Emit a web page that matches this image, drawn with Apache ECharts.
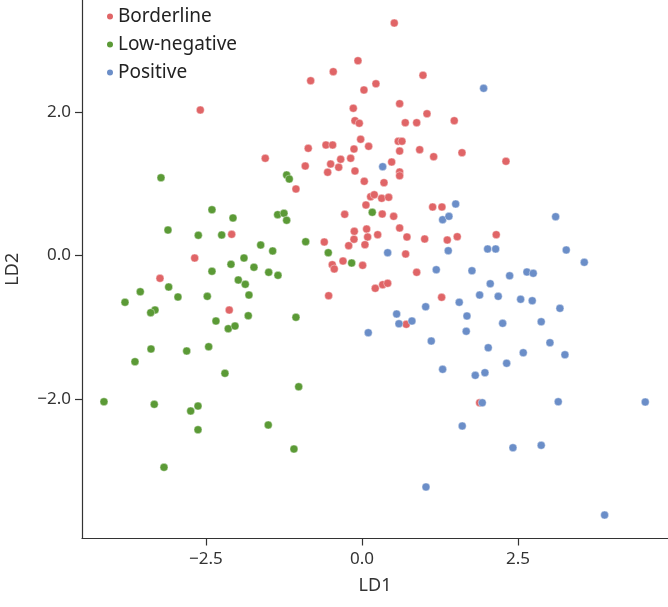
<!DOCTYPE html>
<html><head><meta charset="utf-8">
<script src="https://cdn.jsdelivr.net/npm/echarts@6/dist/echarts.min.js"></script>
<style>html,body{margin:0;padding:0;background:#fff}#c{width:668px;height:607px}</style>
</head><body><div id="c"></div>
<script>
const seriesNames = ["Borderline", "Low-negative", "Positive"];
const xTicks = [-2.5, 0, 2.5];
const yTicks = [-2, 0, 2];

const borderline = [
[-2.591,2.028],[-0.139,2.052],[-0.112,1.879],[-0.043,1.843],[-0.021,1.620],[0.107,1.522],[-0.128,1.484],
[-0.861,1.494],[-0.577,1.540],[-0.470,1.540],[-1.550,1.355],[-0.502,1.275],[-0.341,1.341],[-0.181,1.355],
[-0.373,1.229],[-0.909,1.247],[-0.550,1.160],[-0.112,1.178],[0.037,1.034],[-1.058,0.927],[0.139,0.820],
[0.197,0.847],[0.064,0.704],[-0.277,0.574],[-0.123,0.337],[0.075,0.369],[-0.128,0.226],[0.091,0.258],
[-0.213,0.137],[0.048,0.151],[0.252,0.290],[-2.088,0.295],[-0.604,0.188],[-2.681,-0.035],[-0.304,-0.077],
[-0.476,-0.128],[-0.444,-0.188],[0.011,-0.137],[-3.237,-0.318],[0.213,-0.457],[-0.534,-0.560],[-2.127,-0.760],
[0.518,3.240],[-0.064,2.715],[-0.460,2.562],[0.978,2.512],[0.224,2.394],[0.032,2.307],[0.604,2.116],
[1.042,1.976],[0.694,1.851],[0.877,1.851],[1.479,1.879],[0.582,1.592],[0.641,1.592],[0.604,1.456],
[0.925,1.475],[1.149,1.377],[1.603,1.433],[2.308,1.313],[0.476,1.303],[0.604,1.164],[0.604,1.112],
[0.353,1.015],[0.316,0.797],[0.428,0.811],[0.325,0.578],[0.508,0.546],[1.133,0.676],[1.282,0.676],
[0.604,0.383],[0.721,0.258],[1.005,0.230],[1.367,0.216],[1.527,0.262],[2.152,0.290],[0.700,0.021],
[0.877,-0.234],[0.332,-0.407],[0.412,-0.387],[1.277,-0.583],[0.710,-0.959],[1.886,-2.052],[-0.822,2.436]
];
const lowNegative = [
[-3.221,1.084],[-1.207,1.122],[-1.165,1.066],[-2.404,0.638],[-2.067,0.523],[-1.351,0.569],[-1.250,0.588],
[-1.207,0.491],[0.165,0.602],[-3.109,0.355],[-2.623,0.282],[-2.248,0.286],[-0.902,0.192],[-1.623,0.146],
[-1.431,0.063],[-0.540,0.039],[-1.891,-0.035],[-2.099,-0.123],[-0.165,-0.105],[-1.731,-0.164],[-2.404,-0.220],
[-1.495,-0.234],[-1.346,-0.276],[-1.982,-0.341],[-1.870,-0.401],[-3.098,-0.439],[-3.553,-0.505],[-2.949,-0.578],
[-2.479,-0.569],[-1.811,-0.551],[-3.798,-0.652],[-3.317,-0.760],[-3.386,-0.797],[-2.340,-0.913],[-1.822,-0.839],
[-1.058,-0.861],[-2.143,-1.020],[-2.035,-0.983],[-3.381,-1.303],[-3.638,-1.480],[-2.809,-1.331],[-2.457,-1.271],
[-2.196,-1.642],[-1.014,-1.829],[-4.135,-2.038],[-3.329,-2.074],[-2.745,-2.167],[-2.628,-2.098],[-2.628,-2.428],
[-1.502,-2.362],[-1.090,-2.697],[-3.173,-2.952]
];
const positive = [
[0.101,-1.076],[1.950,2.330],[0.332,1.238],[1.502,0.718],[1.293,0.499],[1.394,0.546],[3.104,0.541],
[0.412,0.039],[1.383,0.067],[2.014,0.091],[2.143,0.091],[3.274,0.077],[3.563,-0.095],[1.191,-0.198],
[1.763,-0.212],[2.367,-0.282],[2.644,-0.230],[2.745,-0.248],[2.056,-0.393],[1.886,-0.551],[2.184,-0.569],
[2.543,-0.610],[2.729,-0.630],[1.559,-0.652],[1.021,-0.714],[3.173,-0.736],[0.556,-0.815],[0.593,-0.951],
[0.801,-0.913],[1.683,-0.843],[2.873,-0.923],[2.255,-0.945],[1.671,-1.056],[1.111,-1.192],[3.013,-1.215],
[2.024,-1.285],[2.585,-1.355],[3.253,-1.383],[2.319,-1.502],[1.293,-1.586],[1.816,-1.670],[1.971,-1.633],
[1.928,-2.052],[3.146,-2.038],[4.540,-2.042],[1.607,-2.376],[2.420,-2.679],[2.873,-2.645],[1.026,-3.226],
[3.889,-3.617]
];

const colors = ["#e06567", "#5b9a36", "#6b8ec8"];
const FONT = "Noto Sans";
const fmt = v => (v < 0 ? "\u2212" : "") + Math.abs(v).toFixed(1);

const chart = echarts.init(document.getElementById('c'), null, {renderer: 'canvas'});
const mk = (name, data, color) => ({
  name, type: 'scatter', data, symbol: 'circle', symbolSize: 8,
  itemStyle: {color, opacity: 1, borderColor: '#fff', borderWidth: 0.4},
  emphasis: {disabled: true}
});
chart.setOption({
  animation: false,
  color: colors,
  textStyle: {fontFamily: FONT},
  grid: {left: 82, right: 0, top: 0, bottom: 68.5, containLabel: false, outerBoundsMode: 'none'},
  legend: {
    orient: 'vertical', left: 100, top: 2, itemGap: 9,
    icon: 'circle', itemWidth: 8, itemHeight: 8,
    textStyle: {fontSize: 19, color: '#222', fontFamily: FONT, padding: [0,0,0,-1]},
    data: seriesNames
  },
  xAxis: {
    type: 'value', min: -4.487, max: 4.905,
    name: 'LD1', nameLocation: 'middle', nameGap: 38,
    nameTextStyle: {fontSize: 18, color: '#333', fontFamily: FONT},
    axisLine: {show: true, onZero: false, lineStyle: {color: '#333', width: 1.2}},
    axisTick: {show: true, customValues: xTicks, length: 7, lineStyle: {color: '#333', width: 1.2}},
    axisLabel: {customValues: xTicks, formatter: fmt, fontSize: 17, color: '#333', margin: 12, fontFamily: FONT},
    splitLine: {show: false}
  },
  yAxis: {
    type: 'value', min: -3.944, max: 3.561,
    name: 'LD2', nameLocation: 'middle', nameGap: 60, nameRotate: 90,
    nameTextStyle: {fontSize: 18, color: '#333', fontFamily: FONT},
    axisLine: {show: true, onZero: false, lineStyle: {color: '#333', width: 1.2}},
    axisTick: {show: true, customValues: yTicks, length: 7, lineStyle: {color: '#333', width: 1.2}},
    axisLabel: {customValues: yTicks, formatter: fmt, fontSize: 17, color: '#333', margin: 11, fontFamily: FONT},
    splitLine: {show: false}
  },
  series: [
    mk(seriesNames[0], borderline, colors[0]),
    mk(seriesNames[1], lowNegative, colors[1]),
    mk(seriesNames[2], positive, colors[2])
  ]
});
</script></body></html>
